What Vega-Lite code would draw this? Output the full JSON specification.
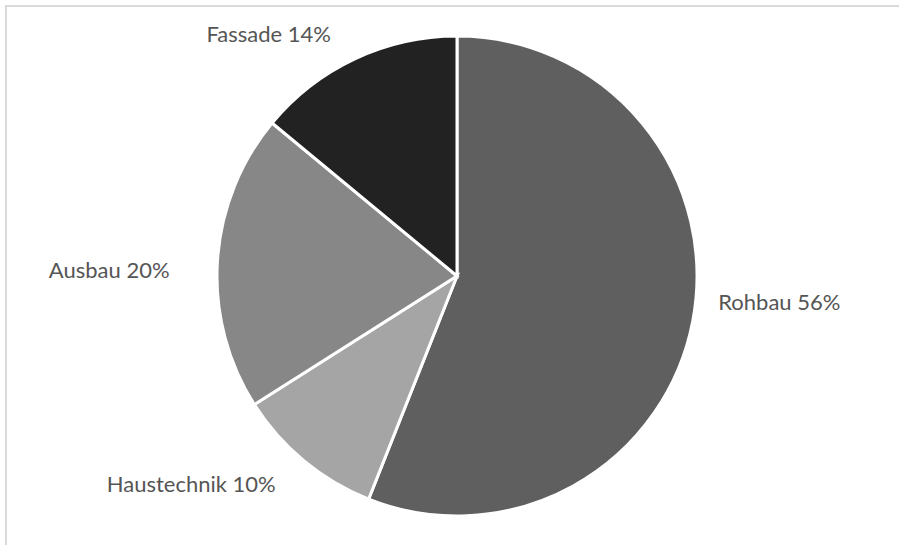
{
  "$schema": "https://vega.github.io/schema/vega-lite/v6.json",
  "width": 902,
  "height": 540,
  "autosize": {"type": "none"},
  "padding": {"left": 6, "top": 6, "right": 0, "bottom": 0},
  "background": "white",
  "view": {"stroke": null},
  "data": {
    "values": [
      {"name": "Rohbau", "value": 56, "order": 1},
      {"name": "Haustechnik", "value": 10, "order": 2},
      {"name": "Ausbau", "value": 20, "order": 3},
      {"name": "Fassade", "value": 14, "order": 4}
    ]
  },
  "transform": [
    {"calculate": "datum.name + ' ' + datum.value + '%'", "as": "label"}
  ],
  "layer": [
    {
      "data": {"values": [{"frame": "chart area"}]},
      "mark": {"type": "rect", "fill": null, "stroke": "#d9d9d9", "strokeWidth": 2, "strokeDash": [902, 1442, 540]},
      "encoding": {}
    },
    {
      "mark": {"type": "arc", "outerRadius": 240, "stroke": "white", "strokeWidth": 3},
      "encoding": {
        "theta": {"field": "value", "type": "quantitative", "stack": true},
        "order": {"field": "order", "type": "quantitative"},
        "color": {
          "field": "name",
          "type": "nominal",
          "scale": {
            "domain": ["Rohbau", "Haustechnik", "Ausbau", "Fassade"],
            "range": ["#5f5f5f", "#a5a5a5", "#878787", "#222222"]
          },
          "legend": null
        }
      }
    },
    {
      "mark": {"type": "text", "radius": 266, "align": "left", "baseline": "middle", "dy": -23, "font": "Lato", "fontSize": 22, "fill": "#555555"},
      "encoding": {
        "theta": {"field": "value", "type": "quantitative", "stack": true},
        "order": {"field": "order", "type": "quantitative"},
        "text": {"condition": {"test": "datum.name == 'Rohbau'", "field": "label"}, "value": ""}
      }
    },
    {
      "mark": {"type": "text", "radius": 275, "align": "right", "baseline": "middle", "dx": -6, "dy": -3, "font": "Lato", "fontSize": 22, "fill": "#555555"},
      "encoding": {
        "theta": {"field": "value", "type": "quantitative", "stack": true},
        "order": {"field": "order", "type": "quantitative"},
        "text": {"condition": {"test": "datum.name == 'Haustechnik'", "field": "label"}, "value": ""}
      }
    },
    {
      "mark": {"type": "text", "radius": 275, "align": "right", "baseline": "middle", "dx": -13, "dy": 12, "font": "Lato", "fontSize": 22, "fill": "#555555"},
      "encoding": {
        "theta": {"field": "value", "type": "quantitative", "stack": true},
        "order": {"field": "order", "type": "quantitative"},
        "text": {"condition": {"test": "datum.name == 'Ausbau'", "field": "label"}, "value": ""}
      }
    },
    {
      "mark": {"type": "text", "radius": 275, "align": "right", "baseline": "middle", "dx": -9, "dy": 8, "font": "Lato", "fontSize": 22, "fill": "#555555"},
      "encoding": {
        "theta": {"field": "value", "type": "quantitative", "stack": true},
        "order": {"field": "order", "type": "quantitative"},
        "text": {"condition": {"test": "datum.name == 'Fassade'", "field": "label"}, "value": ""}
      }
    }
  ]
}
